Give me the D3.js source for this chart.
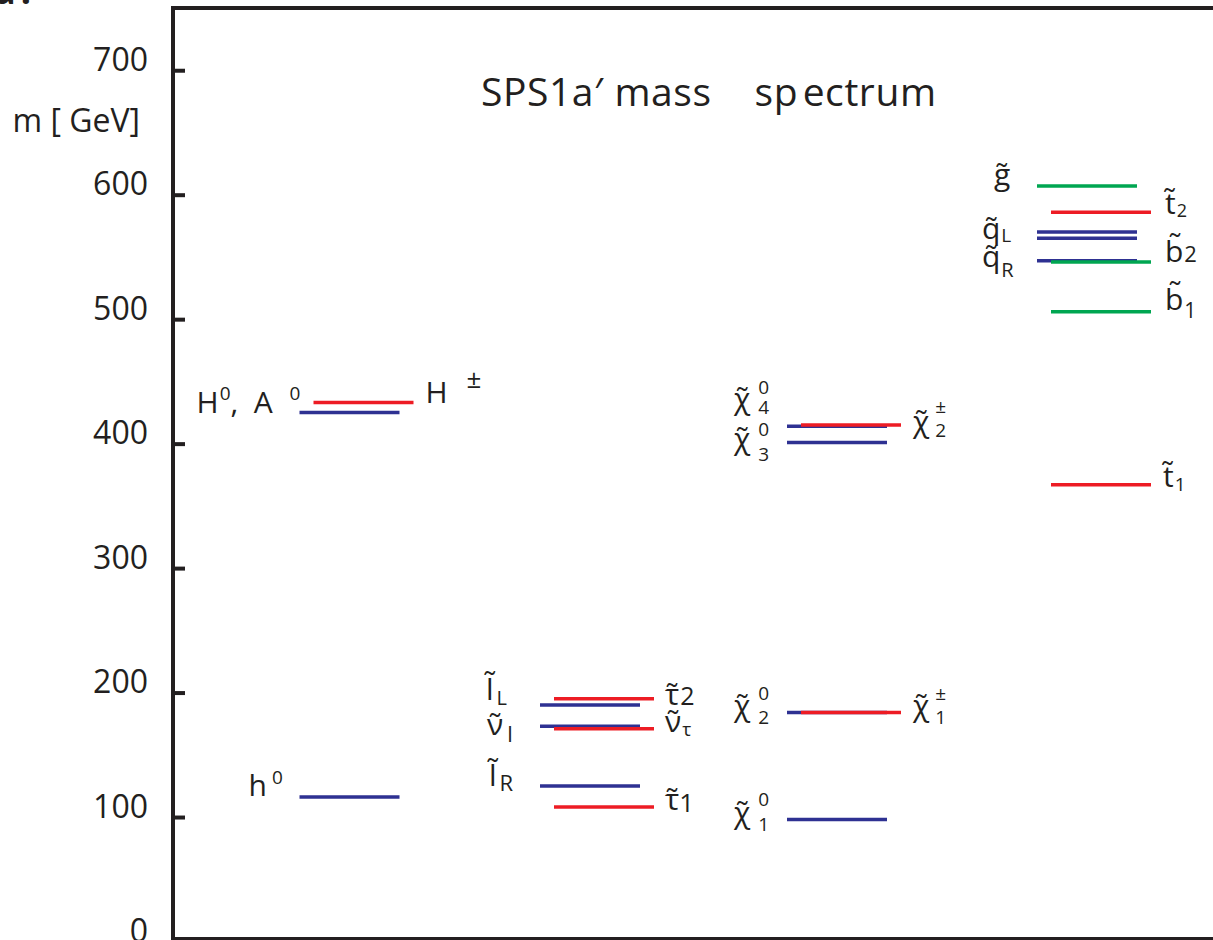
<!DOCTYPE html>
<html>
<head>
<meta charset="utf-8">
<script src="https://cdn.jsdelivr.net/npm/d3@7"></script>
<style>
  html, body { margin: 0; padding: 0; background: #fff; }
  svg { display: block; }
  text { font-family: "Open Sans", "DejaVu Sans", sans-serif; fill: #231f20; white-space: pre; }
</style>
</head>
<body>
<svg id="chart" width="1213" height="940"></svg>
<script>
// ---- data: SPS1a' mass levels in GeV ----
const columns = ["higgs", "sleptons", "gauginos", "squarks"];
const yTicks = [0, 100, 200, 300, 400, 500, 600, 700];
const titleText = "SPS1a\u2032 mass    sp\u200Aectrum";

const particles = ["h0", "H0A0", "Hpm",
  "selL", "snul", "selR", "stau2", "snutau", "stau1",
  "chi40", "chi30", "chi2pm", "chi20", "chi1pm", "chi10",
  "gluino", "stop2", "sqL1", "sqL2", "sqR", "sbot2", "sbot1", "stop1"];
const masses = [116, 425, 433,
  190, 173, 125, 195, 171, 108,
  414, 401, 415, 184, 184, 98,
  607, 586, 570, 565, 547, 546, 506, 367];
const columnOf = ["higgs", "higgs", "higgs",
  "sleptons", "sleptons", "sleptons", "sleptons", "sleptons", "sleptons",
  "gauginos", "gauginos", "gauginos", "gauginos", "gauginos", "gauginos",
  "squarks", "squarks", "squarks", "squarks", "squarks", "squarks", "squarks", "squarks"];
const family = ["f1", "f1", "f2",
  "f1", "f1", "f1", "f2", "f2", "f2",
  "f1", "f1", "f2", "f1", "f2", "f1",
  "f3", "f2", "f1", "f1", "f1", "f3", "f3", "f2"];
const labelSide = ["left", "left", "right",
  "left", "left", "left", "right", "right", "right",
  "left", "left", "right", "left", "right", "left",
  "left", "right", "left", "left", "left", "right", "right", "right"];
// ^{..} = superscript, _{..} = subscript
const labels = ["h^{0}", "H^{0},  A  ^{0}", "H ^{±}",
  "l\u0303_{L}", "ν\u0303_{l}", "l\u0303_{R}", "τ\u0303_{2}", "ν\u0303_{τ}", "τ\u0303_{1}",
  "χ\u0303^{0}_{4}", "χ\u0303^{0}_{3}", "χ\u0303^{±}_{2}", "χ\u0303^{0}_{2}", "χ\u0303^{±}_{1}", "χ\u0303^{0}_{1}",
  "g\u0303", "t\u0303_{2}", "q\u0303_{L}", "", "q\u0303_{R}", "b\u0303_{2}", "b\u0303_{1}", "t\u0303_{1}"];

// ---- layout ----
const W = 1213, H = 940;
const axisX = 173;
const frameTop = 8, frameBottom = 938.5;
const lineLen = 100, rightShift = 14;
const mainSize = 30;

// label placement: dx from line start (left labels) or line end (right labels),
// dy of the main baseline from the level, script offsets/size
const labelLayout = {
  h0:     { dx: -51,  dy: -1,   gap: 5,  sup: -12, ss: 19 },
  H0A0:   { dx: -103, dy: 0.5,  gap: 1,  sup: -13, ss: 19 },
  Hpm:    { dx: 12,   dy: 0.5,  gap: 11, sup: -15, ss: 26 },
  selL:   { dx: -54,  dy: -5,   gap: 3,  sub: 5,   ss: 20 },
  snul:   { dx: -53,  dy: 9,    gap: 4,  sub: 7,   ss: 22 },
  selR:   { dx: -51,  dy: 0.5,  gap: 3,  sub: 5,   ss: 22 },
  stau2:  { dx: 11,   dy: 6,    gap: 1,  sub: 0,   ss: 25 },
  snutau: { dx: 11,   dy: 3.5,  gap: 1,  sub: 3.5, ss: 19 },
  stau1:  { dx: 11,   dy: 3,    gap: 0,  sub: 2,   ss: 26 },
  chi40:  { dx: -53,  dy: -17,  gap: 8,  sup: -15, sub: 5,  ss: 19 },
  chi30:  { dx: -53,  dy: 7,    gap: 8,  sup: -13, sub: 12, ss: 19 },
  chi2pm: { dx: 12,   dy: 7.5,  gap: 6,  sup: -19, sub: 5,  ss: 19 },
  chi20:  { dx: -53,  dy: 4,    gap: 8,  sup: -16, sub: 8,  ss: 19 },
  chi1pm: { dx: 12,   dy: 4,    gap: 6,  sup: -16, sub: 8,  ss: 19 },
  chi10:  { dx: -53,  dy: 3,    gap: 8,  sup: -17, sub: 8,  ss: 19 },
  gluino: { dx: -43,  dy: -0.5 },
  stop2:  { dx: 14,   dy: 1.5,  gap: 1,  sub: 3.5, ss: 18 },
  sqL1:   { dx: -55,  dy: 6.5,  gap: 1,  sub: 3.5, ss: 19 },
  sqL2:   { dx: 0,    dy: 0 },
  sqR:    { dx: -55,  dy: 6,    gap: 1,  sub: 10,  ss: 20 },
  sbot2:  { dx: 14,   dy: 0,    gap: 1,  sub: 0,   ss: 22 },
  sbot1:  { dx: 14,   dy: -1.5, gap: 1,  sub: 8,   ss: 21 },
  stop1:  { dx: 12,   dy: 2.5,  gap: 1,  sub: 3.5, ss: 19 }
};

const svg = d3.select("#chart");

const y = d3.scaleLinear().domain([0, 750]).range([941.5, frameTop]);
const xCol = d3.scaleOrdinal().domain(columns).range([349.5, 590, 837, 1087]);
const colour = d3.scaleOrdinal().domain(["f1", "f2", "f3"]).range(["#2e3192", "#ed1c24", "#00a651"]);

// ---- frame ----
svg.append("line")
  .attr("x1", axisX - 2).attr("x2", W).attr("y1", frameTop).attr("y2", frameTop)
  .attr("stroke", "#231f20").attr("stroke-width", 4);
svg.append("line")
  .attr("x1", axisX).attr("x2", W).attr("y1", frameBottom).attr("y2", frameBottom)
  .attr("stroke", "#231f20").attr("stroke-width", 3);

// ---- y axis ----
const axis = d3.axisLeft(y).tickValues(yTicks).tickSize(-12).tickSizeOuter(0).tickPadding(25);
const gAxis = svg.append("g").attr("transform", `translate(${axisX},0)`).call(axis);
gAxis.select(".domain").remove();
gAxis.append("line")
  .attr("x1", 0).attr("x2", 0).attr("y1", frameTop - 2).attr("y2", H)
  .attr("stroke", "#231f20").attr("stroke-width", 4);
gAxis.selectAll(".tick line").attr("stroke", "#231f20").attr("stroke-width", 4).attr("x1", 2);
gAxis.selectAll(".tick text")
  .attr("dy", 0)
  .attr("fill", "#231f20")
  .style("font-family", "'Open Sans', sans-serif")
  .style("font-size", "32px");

svg.append("text")
  .attr("x", 140).attr("y", 132)
  .attr("text-anchor", "end")
  .style("font-size", "32px")
  .text("m [ GeV]");

// panel letter (cropped at the top edge)
svg.append("text")
  .attr("x", -6).attr("y", 4)
  .style("font-size", "36px").style("font-weight", "bold")
  .style("letter-spacing", "5px")
  .text("a.");

// ---- title ----
svg.append("text")
  .attr("x", 481).attr("y", 106)
  .attr("textLength", 455).attr("lengthAdjust", "spacing")
  .style("font-size", "39px")
  .text(titleText);

// ---- levels ----
const rows = particles.map((id, i) => ({
  id, mass: masses[i], col: columnOf[i], fam: family[i], side: labelSide[i], label: labels[i]
}));

function lineX(d) {
  const c = xCol(d.col);
  const s = d.side === "right" ? rightShift : 0;
  return [c - lineLen / 2 + s, c + lineLen / 2 + s];
}

// draw left-labelled (underlying) levels first so partners overlay them
const order = rows.slice().sort((a, b) => (a.side === "right") - (b.side === "right"));
svg.append("g").selectAll("line").data(order).join("line")
  .attr("x1", d => lineX(d)[0])
  .attr("x2", d => lineX(d)[1])
  .attr("y1", d => y(d.mass))
  .attr("y2", d => y(d.mass))
  .attr("stroke", d => colour(d.fam))
  .attr("stroke-width", 3.5);

// ---- labels ----
function parseLabel(s) {
  const re = /(\^|_)\{([^}]*)\}|([^\^_]+)/g;
  const out = [];
  let m;
  while ((m = re.exec(s)) !== null) {
    if (m[3] !== undefined) out.push({ role: "main", text: m[3] });
    else out.push({ role: m[1] === "^" ? "sup" : "sub", text: m[2] });
  }
  return out;
}

const labelLayer = svg.append("g");
rows.forEach(d => {
  if (!d.label) return;
  const L = Object.assign({ gap: 5, sup: -14, sub: 8, ss: 18 }, labelLayout[d.id]);
  const [x1, x2] = lineX(d);
  const x0 = d.side === "left" ? x1 + L.dx : x2 + L.dx;
  const y0 = y(d.mass) + L.dy;
  const g = labelLayer.append("g").attr("transform", `translate(${x0},${y0})`);
  let cx = 0, prev = null, scriptStart = 0;
  parseLabel(d.label).forEach(p => {
    if (p.role === "main") {
      const t = g.append("text").attr("x", cx).attr("y", 0)
        .style("font-size", mainSize + "px").text(p.text);
      cx += t.node().getComputedTextLength();
    } else {
      const sx = (prev && prev !== "main") ? scriptStart : cx + L.gap;
      scriptStart = sx;
      const t = g.append("text").attr("x", sx).attr("y", p.role === "sup" ? L.sup : L.sub)
        .style("font-size", L.ss + "px").text(p.text);
      cx = Math.max(cx, sx + t.node().getComputedTextLength());
    }
    prev = p.role;
  });
});
</script>
</body>
</html>
